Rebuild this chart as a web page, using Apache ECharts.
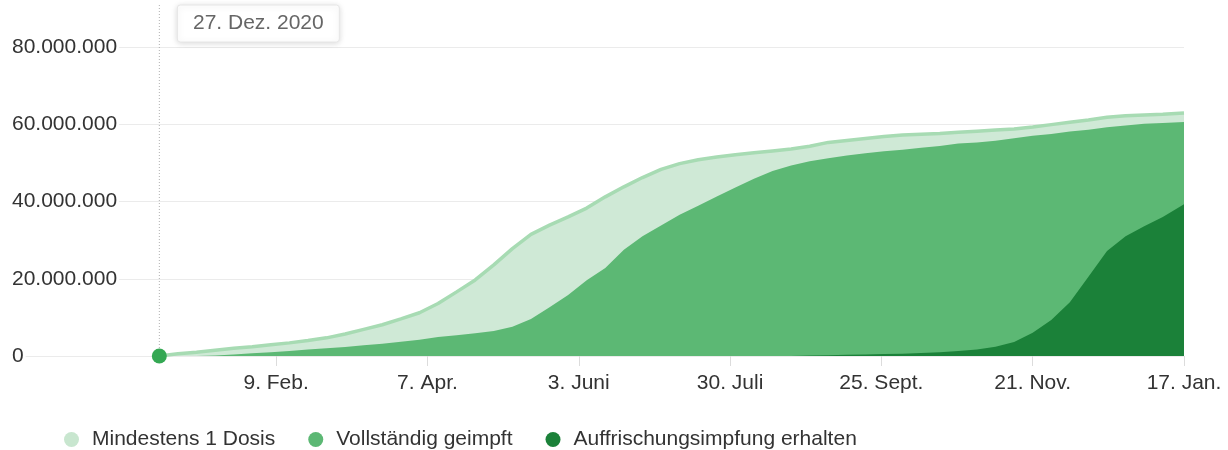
<!DOCTYPE html>
<html>
<head>
<meta charset="utf-8">
<script src="https://cdn.jsdelivr.net/npm/echarts@6/dist/echarts.min.js"></script>
<style>
html,body{margin:0;padding:0;background:#fff;}
#c{width:1228px;height:450px;}
</style>
</head>
<body>
<div id="c"></div>
<script>
// Dates (weekly samples)
const dates = [
'2020-12-27','2021-01-03','2021-01-10','2021-01-17','2021-01-24','2021-01-31','2021-02-07','2021-02-14','2021-02-21','2021-02-28',
'2021-03-07','2021-03-14','2021-03-21','2021-03-28','2021-04-04','2021-04-11','2021-04-18','2021-04-25','2021-05-02','2021-05-09',
'2021-05-16','2021-05-23','2021-05-30','2021-06-06','2021-06-13','2021-06-20','2021-06-27','2021-07-04','2021-07-11','2021-07-18',
'2021-07-25','2021-08-01','2021-08-08','2021-08-15','2021-08-22','2021-08-29','2021-09-05','2021-09-12','2021-09-19','2021-09-26',
'2021-10-03','2021-10-10','2021-10-17','2021-10-24','2021-10-31','2021-11-07','2021-11-14','2021-11-21','2021-11-28','2021-12-05',
'2021-12-12','2021-12-19','2021-12-26','2022-01-02','2022-01-09','2022-01-17'
];
// values in millions
const mindestens1 = [
0,0.6,1.0,1.5,2.0,2.4,2.9,3.4,4.0,4.7,
5.7,6.9,8.1,9.6,11.2,13.6,16.6,19.7,23.6,27.8,
31.5,33.9,36.0,38.3,41.2,43.8,46.2,48.3,49.8,50.8,
51.5,52.1,52.6,53.1,53.6,54.3,55.3,55.8,56.3,56.8,
57.2,57.4,57.6,57.9,58.2,58.5,58.8,59.3,59.9,60.5,
61.1,61.8,62.2,62.4,62.6,62.9
];
const vollstaendig = [
0,0,0,0.1,0.4,0.7,1.0,1.3,1.7,2.0,
2.3,2.8,3.2,3.7,4.2,4.9,5.4,5.9,6.5,7.6,
9.6,12.6,15.8,19.6,22.8,27.5,31.0,33.8,36.6,38.9,
41.3,43.6,45.9,47.9,49.3,50.4,51.2,51.9,52.5,53.0,
53.4,53.9,54.4,55.0,55.3,55.7,56.4,57.0,57.5,58.1,
58.6,59.2,59.7,60.1,60.3,60.6
];
const auffrischung = [
0,0,0,0,0,0,0,0,0,0,
0,0,0,0,0,0,0,0,0,0,
0,0,0,0,0,0,0,0,0,0,
0,0,0,0,0,0.1,0.2,0.3,0.4,0.5,
0.6,0.8,1.0,1.3,1.7,2.4,3.6,6.0,9.3,13.9,
20.5,27.2,31.0,33.6,36.0,39.3
];
const seriesNames = ['Mindestens 1 Dosis','Vollständig geimpft','Auffrischungsimpfung erhalten'];
const tickDates = ['2021-02-09','2021-04-07','2021-06-03','2021-07-30','2021-09-25','2021-11-21','2022-01-17'];
const tickLabels = ['9. Feb.','7. Apr.','3. Juni','30. Juli','25. Sept.','21. Nov.','17. Jan.'];
const highlightLabel = '27. Dez. 2020';

const DAY = 86400000;
const t0 = Date.parse(dates[0] + 'T00:00:00Z');
const dayOf = d => Math.round((Date.parse(d + 'T00:00:00Z') - t0) / DAY);
const tickDays = tickDates.map(dayOf);
const toPairs = arr => dates.map((d, i) => [dayOf(d), arr[i] * 1e6]);
const fmtNum = v => String(Math.round(v)).replace(/\B(?=(\d{3})+(?!\d))/g, '.');

const FONT = '"Liberation Sans", Arial, sans-serif';
const C_LIGHT = '#cfe9d6', C_LIGHT_LINE = '#a7dbb3', C_MID = '#5cb874', C_DARK = '#1b8139';

const chart = echarts.init(document.getElementById('c'), null, {renderer: 'canvas'});
const xMin = -55.5;
const xMax = dayOf(dates[dates.length - 1]);

chart.setOption({
  animation: false,
  textStyle: {fontFamily: FONT},
  grid: {left: 12, right: 44, top: 47, bottom: 94, containLabel: false, outerBoundsMode: 'none'},
  legend: {
    data: [
      {name: seriesNames[0], itemStyle: {color: '#c8e6cf'}},
      {name: seriesNames[1], itemStyle: {color: C_MID}},
      {name: seriesNames[2], itemStyle: {color: C_DARK}}
    ],
    left: 59, top: 424, icon: 'circle', itemWidth: 15, itemHeight: 15, itemGap: 33,
    textStyle: {fontSize: 21, color: '#333', fontFamily: FONT, padding: [0, 0, 0, 8]}
  },
  xAxis: {
    type: 'value', min: xMin, max: xMax,
    axisLine: {show: false},
    axisTick: {show: true, customValues: tickDays, length: 10, lineStyle: {color: '#dcdcdc'}},
    axisLabel: {
      customValues: tickDays, fontSize: 21, color: '#333', margin: 17, fontFamily: FONT,
      formatter: v => { const i = tickDays.indexOf(Math.round(v)); return i >= 0 ? tickLabels[i] : ''; }
    },
    splitLine: {show: false}
  },
  yAxis: {
    type: 'value', min: 0, max: 80e6, interval: 20e6,
    axisLine: {show: false}, axisTick: {show: false},
    axisLabel: {inside: true, margin: 0, fontSize: 21, color: '#333', fontFamily: FONT,
      backgroundColor: '#fff', padding: [0, 2, 0, 0], formatter: fmtNum},
    splitLine: {lineStyle: {color: '#ebebeb', width: 1}}
  },
  series: [
    {name: seriesNames[0], type: 'line', data: toPairs(mindestens1), showSymbol: false,
     lineStyle: {color: C_LIGHT_LINE, width: 3.5}, itemStyle: {color: '#c8e6cf'},
     areaStyle: {color: C_LIGHT, opacity: 1}, z: 2},
    {name: seriesNames[1], type: 'line', data: toPairs(vollstaendig), showSymbol: false,
     lineStyle: {width: 0, color: C_MID}, itemStyle: {color: C_MID},
     areaStyle: {color: C_MID, opacity: 1}, z: 3},
    {name: seriesNames[2], type: 'line', data: toPairs(auffrischung), showSymbol: false,
     lineStyle: {width: 0, color: C_DARK}, itemStyle: {color: C_DARK},
     areaStyle: {color: C_DARK, opacity: 1}, z: 4},
    {name: 'highlight', type: 'scatter', data: [[0, 0]], symbolSize: 15,
     itemStyle: {color: '#34a853', opacity: 1}, z: 10, silent: true}
  ]
});

const p = chart.convertToPixel({xAxisIndex: 0, yAxisIndex: 0}, [0, 0]);
chart.setOption({
  graphic: [
    {type: 'line', shape: {x1: p[0], y1: 5, x2: p[0], y2: p[1]}, z: 1,
     style: {stroke: '#b0b0b0', lineWidth: 1, lineDash: [1, 2]}},
    {type: 'rect', shape: {x: p[0] + 18, y: 5, width: 162, height: 37, r: 3}, z: 20,
     style: {fill: '#fff', stroke: '#e6e6e6', lineWidth: 1, shadowBlur: 6, shadowColor: 'rgba(0,0,0,0.15)', shadowOffsetY: 1}},
    {type: 'text', x: p[0] + 18 + 81, y: 5 + 18.5, z: 21,
     style: {text: highlightLabel, fill: '#666', fontSize: 21, fontFamily: FONT, align: 'center', verticalAlign: 'middle'}}
  ]
});
</script>
</body>
</html>
